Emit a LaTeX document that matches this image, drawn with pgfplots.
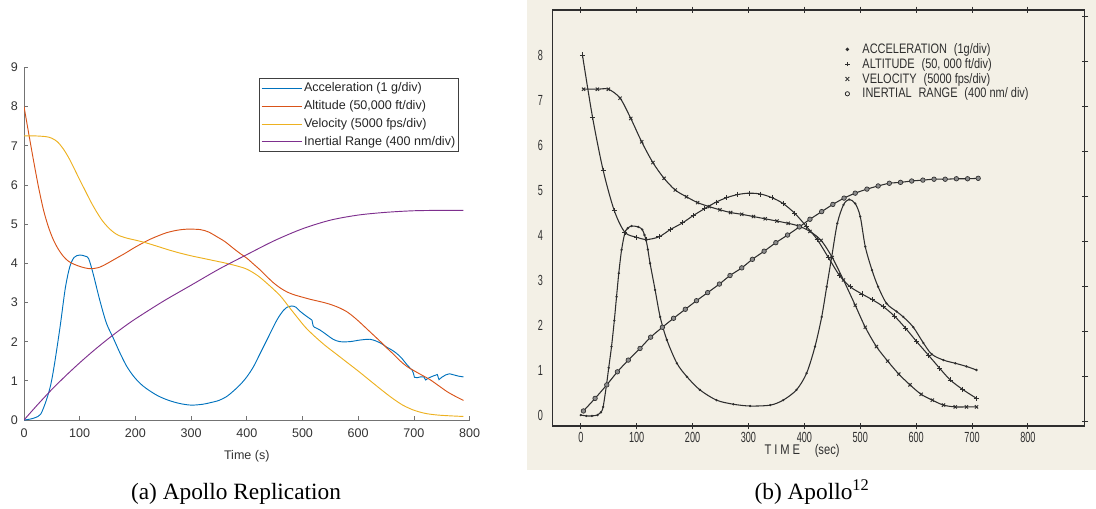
\documentclass[border=0pt]{standalone}
\usepackage{fontspec}
\setmainfont{Liberation Sans}
\newfontfamily\capfont{Liberation Serif}
\newfontfamily\scanfont[FakeStretch=0.8]{Liberation Sans}
\newfontfamily\scannarrow[FakeStretch=0.62]{Liberation Sans}
\usepackage{pgfplots}
\pgfplotsset{compat=1.18}
\definecolor{mblue}{HTML}{0072BD}
\definecolor{morange}{HTML}{D95319}
\definecolor{myellow}{HTML}{EDB120}
\definecolor{mpurple}{HTML}{7E2F8E}
\definecolor{scanbg}{HTML}{F3F0E6}
\definecolor{ink}{HTML}{2E2E2E}
\begin{document}
\begin{tikzpicture}
\useasboundingbox (0,0) rectangle (822pt,381pt);
\fill[scanbg] (395.25pt,28.5pt) rectangle (822pt,381pt);
% ---------------- (a) replication ----------------
\begin{axis}[
  at={(18pt,66pt)}, anchor=south west,
  scale only axis, width=334.2pt, height=264.5pt,
  xmin=0, xmax=800, ymin=0, ymax=9,
  axis x line*=bottom, axis y line*=left,
  axis line style={black!55, line width=0.5pt},
  tick align=inside, major tick length=3pt,
  tick style={black!55, line width=0.5pt},
  xtick={0,100,...,800}, ytick={0,1,...,9},
  /pgf/number format/assume math mode=true,
  ticklabel style={font=\fontsize{9.4}{10}\selectfont, text=black!80},
  xticklabel style={yshift=-3pt},
  yticklabel style={xshift=-1pt},
  xlabel={Time (s)},
  xlabel style={font=\fontsize{9.4}{11}\selectfont, text=black!80, at={(axis description cs:0.5,0)}, anchor=center, yshift=-27.5pt},
  legend style={at={(0.976,0.969)}, anchor=north east, draw=black!75, line width=0.5pt,
    font=\fontsize{9.4}{11}\selectfont, text=black!85, inner sep=1pt, row sep=0.3pt,
    nodes={inner sep=1.5pt, text depth=0.25em, text height=0.75em}},
  legend cell align=left,
  legend image code/.code={\draw[#1] (0pt,0pt) -- (30pt,0pt);},
  every axis plot/.append style={line width=0.7pt},
]
\addplot[mblue, smooth] coordinates {
(0,0) (10,0.02) (20,0.06) (30,0.15) (40,0.5) (48,0.9) (55,1.45) (65,2.4) (74,3.35)
(82,3.9) (90,4.15) (100,4.21) (110,4.18) (116,4.12) (124,3.74) (136,3.06) (148,2.47)
(160,2.1) (172,1.72) (184,1.38) (196,1.13) (208,0.94) (220,0.8) (240,0.62) (260,0.5)
(280,0.42) (300,0.38) (320,0.4) (334,0.44) (350,0.5) (364,0.6) (376,0.74) (388,0.9)
(400,1.1) (412,1.36) (424,1.7) (436,2.04) (454,2.55) (466,2.8) (474,2.89) (481,2.91)
(488,2.88) (496,2.77) (506,2.66) (517,2.55)};
\addlegendentry{Acceleration (1 g/div)}
\addplot[mblue, forget plot] coordinates {(517,2.55) (519,2.41) (521,2.37)};
\addplot[mblue, smooth, forget plot] coordinates {
(521,2.37) (531,2.3) (543,2.18) (555,2.06) (567,2.0) (585,2.0) (603,2.04) (621,2.06)
(633,2.01) (643,1.94) (651,1.86) (660,1.79) (669,1.7) (678,1.58) (687,1.42) (697,1.27)};
\addplot[mblue, forget plot] coordinates {
(697,1.27) (699,1.2) (701,1.09) (706,1.08) (712,1.1) (718,1.1) (721,1.02) (726,1.07)
(734,1.12) (740,1.15) (742,1.16) (745,1.03) (750,1.09) (757,1.15) (764,1.18) (772,1.15)
(780,1.12) (789,1.1)};
\addplot[morange, smooth] coordinates {
(0,8.0) (8,7.35) (17,6.63) (26,5.95) (35,5.36) (44,4.92) (53,4.59) (62,4.35) (71,4.17)
(80,4.05) (89,3.98) (100,3.92) (110,3.88) (121,3.86) (136,3.9) (150,4.0) (166,4.13)
(181,4.25) (196,4.38) (211,4.5) (226,4.61) (241,4.7) (256,4.78) (274,4.84) (292,4.87)
(316,4.86) (331,4.8) (346,4.68) (361,4.55) (376,4.38) (388,4.25) (400,4.13) (412,3.98)
(424,3.83) (436,3.66) (448,3.5) (460,3.37) (472,3.27) (484,3.2) (496,3.15) (514,3.08)
(532,3.02) (548,2.96) (565,2.87) (580,2.76) (592,2.63) (604,2.48) (616,2.32) (628,2.16)
(640,2.0) (652,1.83) (664,1.67) (676,1.5) (688,1.36) (700,1.26) (715,1.14) (729,1.03)
(745,0.87) (760,0.72) (775,0.6) (789,0.5)};
\addlegendentry{Altitude (50,000 ft/div)}
\addplot[myellow, smooth] coordinates {
(0,7.25) (20,7.25) (40,7.23) (50,7.19) (60,7.1) (70,6.93) (80,6.7) (90,6.42) (100,6.13)
(110,5.85) (120,5.57) (130,5.32) (140,5.1) (150,4.93) (160,4.8) (170,4.71) (185,4.64)
(200,4.59) (217,4.53) (240,4.43) (260,4.34) (280,4.26) (300,4.19) (320,4.13) (340,4.07)
(360,4.01) (380,3.94) (400,3.85) (420,3.68) (440,3.44) (460,3.17) (475,2.9) (490,2.63)
(505,2.37) (520,2.16) (540,1.91) (560,1.69) (580,1.47) (600,1.25) (620,1.02) (640,0.79)
(660,0.57) (680,0.38) (700,0.25) (720,0.17) (740,0.13) (760,0.11) (789,0.09)};
\addlegendentry{Velocity (5000 fps/div)}
\addplot[mpurple, smooth] coordinates {
(0,0) (25,0.4) (50,0.78) (75,1.13) (100,1.46) (125,1.77) (150,2.06) (175,2.33)
(200,2.58) (250,3.03) (300,3.44) (350,3.85) (400,4.22) (450,4.58) (500,4.88)
(550,5.1) (600,5.23) (650,5.3) (700,5.34) (750,5.35) (789,5.35)};
\addlegendentry{Inertial Range (400 nm/div)}
\end{axis}
% ---------------- (b) scanned original ----------------
\begin{axis}[
  at={(414.2pt,61.5pt)}, anchor=south west,
  scale only axis, width=399.5pt, height=312pt,
  xmin=-51, xmax=902, ymin=-0.244, ymax=9.0,
  axis line style={ink, line width=0.8pt},
  xtick={0,100,...,800},
  ytick={-0.15,0.85,...,8.85}, yticklabels={0,1,2,3,4,5,6,7,8,{}},
  ytick pos=right, yticklabel pos=left,
  tick align=center, major tick length=5pt,
  tick style={ink, line width=0.7pt},
  /pgf/number format/assume math mode=true,
  ticklabel style={font=\scannarrow\fontsize{11}{12}\selectfont, text=ink},
  yticklabel style={yshift=5pt, xshift=-1pt},
  xticklabel style={yshift=1pt},
  xlabel={T\kern2.2pt I\kern2.2pt M\kern2.2pt E\hspace{11pt}(sec)},
  xlabel style={font=\scanfont\fontsize{10.5}{12}\selectfont, text=ink, at={(axis description cs:0.469,0)}, anchor=center, yshift=-18.5pt},
  legend style={at={(0.545,0.922)}, anchor=north west, draw=none, fill=none, inner sep=0pt,
    font=\scanfont\fontsize{10.3}{11}\selectfont, text=ink, row sep=1.1pt,
    nodes={inner sep=0.9pt, text height=0.72em, text depth=0.1em}},
  legend cell align=left,
  every axis plot/.append style={ink, line width=0.8pt, smooth},
]
\addplot[mark=*, mark size=0.4pt,
  legend image code/.code={\path (0pt,0pt) (13pt,0pt); \fill[ink] (3pt,0pt) circle (0.9pt);}]
 coordinates {
(0,0) (10,-0.02) (20,-0.02) (30,0.0) (36,0.06) (40,0.18) (46,0.67) (50,1.05) (55,1.52)
(60,2.1) (64,2.63) (68,3.15) (73,3.67) (79,4.05) (84,4.15) (91,4.2) (103,4.18)
(110,4.12) (114,4.0) (117,3.88) (120,3.68) (124,3.37) (133,2.78) (142,2.18) (154,1.67)
(172,1.15) (190,0.85) (213,0.56) (243,0.33) (273,0.24) (303,0.2) (339,0.22) (362,0.33)
(386,0.56) (404,0.93) (419,1.52) (431,2.18) (440,2.85) (449,3.52) (459,4.26) (470,4.67)
(480,4.79) (491,4.7) (500,4.41) (509,3.74) (521,3.22) (532,2.85) (547,2.48) (565,2.3)
(577,2.18) (595,1.95) (613,1.6) (628,1.35) (649,1.22) (670,1.15) (690,1.08) (708,1.0)};
\addlegendentry{ACCELERATION\enspace (1g/div)}
\addplot[mark=+, mark size=1.9pt, mark options={line width=0.6pt},
  legend image code/.code={\path (0pt,0pt) (13pt,0pt); \draw[ink, line width=0.6pt] (1.3pt,0pt) -- (4.7pt,0pt) (3pt,-1.7pt) -- (3pt,1.7pt);}]
 coordinates {
(3,8.0) (21,6.62) (40,5.44) (60,4.54) (79,4.06) (100,3.95) (118,3.9) (140,3.96) (160,4.12)
(182,4.27) (201,4.43) (222,4.59) (242,4.73) (261,4.83) (281,4.9) (301,4.93) (322,4.91)
(342,4.83) (362,4.7) (383,4.48) (403,4.2) (423,3.9) (443,3.5) (463,3.1) (482,2.85)
(503,2.69) (522,2.56) (541,2.41) (561,2.2) (581,1.93) (601,1.63) (622,1.33) (642,1.04)
(661,0.78) (683,0.57) (708,0.37)};
\addlegendentry{ALTITUDE\enspace (50, 000 ft/div)}
\addplot[mark=x, mark size=1.7pt, mark options={line width=0.7pt},
  legend image code/.code={\path (0pt,0pt) (13pt,0pt); \draw[ink, line width=0.6pt] (1.6pt,-1.5pt) -- (4.4pt,1.5pt) (1.6pt,1.5pt) -- (4.4pt,-1.5pt);}]
 coordinates {
(5,7.24) (29.7,7.24) (49.4,7.24) (70.4,7.04) (89.5,6.59) (109,6.07) (129,5.61) (149,5.26)
(169,5.0) (189,4.85) (209,4.72) (230,4.63) (249,4.56) (268,4.5) (288,4.46) (309,4.41)
(330,4.36) (351,4.31) (371,4.26) (390,4.2) (410,4.08) (430,3.88) (450,3.5) (470,3.0)
(491,2.44) (509,1.95) (529,1.52) (549,1.2) (569,0.91) (589,0.67) (609,0.46) (629,0.33)
(649,0.22) (670,0.18) (690,0.18) (708,0.18)};
\addlegendentry{VELOCITY\enspace (5000 fps/div)}
\addplot[mark=*, mark size=1.7pt, mark options={fill=black!45, draw=ink, line width=0.5pt},
  legend image code/.code={\path (0pt,0pt) (13pt,0pt); \draw[ink, line width=0.6pt] (3pt,0pt) circle (1.6pt);}]
 coordinates {
(4.7,0.09) (25.6,0.37) (46.5,0.67) (65.5,0.96) (85,1.22) (106,1.48) (125,1.73) (146,1.95)
(166,2.15) (187,2.35) (207,2.54) (227,2.72) (248,2.91) (267,3.1) (288,3.27) (307,3.46)
(328,3.64) (349,3.83) (370,4.0) (391,4.18) (410,4.35) (431,4.52) (451,4.68) (471,4.82)
(491,4.93) (512,5.02) (532,5.09) (552,5.15) (572,5.17) (592,5.2) (612,5.22) (632,5.24)
(652,5.24) (672,5.25) (692,5.25) (711,5.26)};
\addlegendentry{INERTIAL\enspace RANGE\enspace (400 nm/ div)}
\end{axis}
\node[font=\capfont\fontsize{17.5}{20}\selectfont, anchor=base] at (177pt,6.75pt) {(a) Apollo Replication};
\node[font=\capfont\fontsize{17.5}{20}\selectfont, anchor=base] at (609pt,6.75pt) {(b) Apollo\textsuperscript{12}};
\end{tikzpicture}
\end{document}
